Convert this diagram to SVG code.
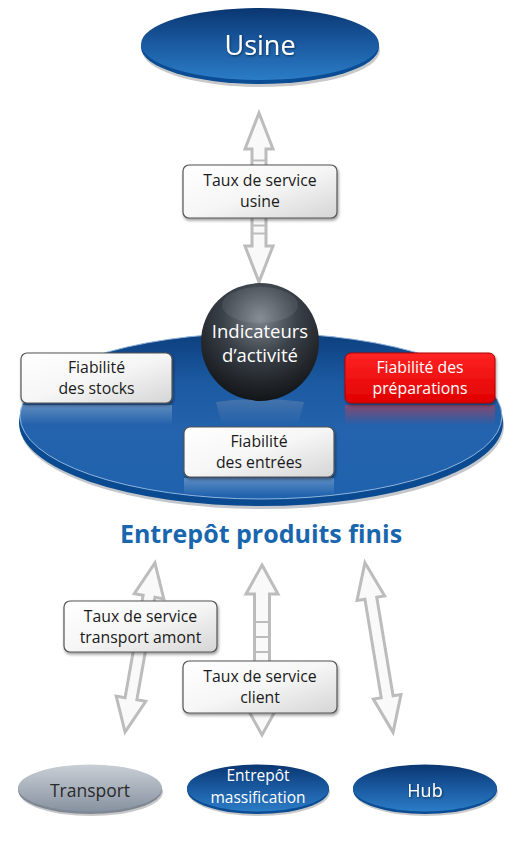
<svg xmlns="http://www.w3.org/2000/svg" width="528" height="843" viewBox="0 0 528 843">
<defs>
<linearGradient id="gBlue" x1="0" y1="0" x2="0" y2="1">
<stop offset="0" stop-color="#0a3670"/><stop offset="0.5" stop-color="#1a5aa1"/><stop offset="1" stop-color="#2b7cc6"/>
</linearGradient>
<linearGradient id="gGray" x1="0" y1="0" x2="0" y2="1">
<stop offset="0" stop-color="#c9cfd6"/><stop offset="1" stop-color="#8792a0"/>
</linearGradient>
<linearGradient id="gDisc" x1="0" y1="0" x2="0" y2="1">
<stop offset="0" stop-color="#0c3f7e"/><stop offset="0.3" stop-color="#1c5aa2"/><stop offset="0.6" stop-color="#2463ad"/><stop offset="1" stop-color="#1f62ad"/>
</linearGradient>
<linearGradient id="gBox" x1="0" y1="0" x2="1" y2="1">
<stop offset="0" stop-color="#ffffff"/><stop offset="0.5" stop-color="#f6f6f6"/><stop offset="1" stop-color="#d5d5d5"/>
</linearGradient>
<linearGradient id="gRed" x1="0" y1="0" x2="0" y2="1">
<stop offset="0" stop-color="#ff2424"/><stop offset="1" stop-color="#e00000"/>
</linearGradient>
<linearGradient id="gRefl" x1="0" y1="0" x2="0" y2="1">
<stop offset="0" stop-color="#ffffff" stop-opacity="0.28"/><stop offset="1" stop-color="#ffffff" stop-opacity="0"/>
</linearGradient>
<linearGradient id="gReflR" x1="0" y1="0" x2="0" y2="1">
<stop offset="0" stop-color="#ff3030" stop-opacity="0.45"/><stop offset="1" stop-color="#ff3030" stop-opacity="0"/>
</linearGradient>
<linearGradient id="gReflS" x1="0" y1="0" x2="0" y2="1">
<stop offset="0" stop-color="#8a9cb5" stop-opacity="0.35"/><stop offset="1" stop-color="#8a9cb5" stop-opacity="0"/>
</linearGradient>
<radialGradient id="gSphere" cx="0.5" cy="0.3" r="0.7">
<stop offset="0" stop-color="#7d848c"/><stop offset="0.45" stop-color="#3b4149"/><stop offset="1" stop-color="#121518"/>
</radialGradient>
<filter id="sh" x="-10%" y="-10%" width="120%" height="130%">
<feDropShadow dx="1" dy="2" stdDeviation="1.5" flood-color="#000" flood-opacity="0.4"/>
</filter>
<filter id="tsh" x="-10%" y="-10%" width="120%" height="130%">
<feDropShadow dx="0.8" dy="1" stdDeviation="0.8" flood-color="#000" flood-opacity="0.55"/>
</filter>
</defs>
<style>
text{font-family:"Open Sans","Noto Sans","DejaVu Sans",sans-serif;text-anchor:middle}
.box{fill:url(#gBox);stroke:#555;stroke-width:1.2}
.bt{font-size:15.8px;fill:#1a1a1a}
.wt{fill:#fff}
.arr{fill:#f9f9f9;stroke:#bcbcbc;stroke-width:3;stroke-linejoin:miter}
.bar{stroke:#bcbcbc;stroke-width:2}
</style>
<rect width="528" height="843" fill="#fff"/>

<g id="usine">
<ellipse cx="261" cy="50" rx="119" ry="37" fill="#c9c9c9"/>
<ellipse cx="260" cy="47" rx="119" ry="37" fill="#0b4d94"/>
<ellipse cx="260" cy="44" rx="119" ry="36" fill="url(#gBlue)"/>
<text x="260" y="55" font-size="27" class="wt" filter="url(#tsh)">Usine</text>
</g>

<g id="connectors">
<g transform="translate(259,197.5)">
<path class="arr" d="M0,-84.5 L14,-48.5 L7,-48.5 L7,48.5 L14,48.5 L0,84.5 L-14,48.5 L-7,48.5 L-7,-48.5 L-14,-48.5 Z"/>
<line class="bar" x1="-7" y1="-37" x2="7" y2="-37"/>
<line class="bar" x1="-7" y1="28" x2="7" y2="28"/>
<line class="bar" x1="-7" y1="36" x2="7" y2="36"/>
</g>
<g transform="translate(140,647.5) rotate(10)">
<path class="arr" d="M0,-86 L15,-52 L6,-52 L6,52 L15,52 L0,86 L-15,52 L-6,52 L-6,-52 L-15,-52 Z"/>
</g>
<g transform="translate(262,650)">
<path class="arr" d="M0,-85 L16,-56 L7.5,-56 L7.5,56 L16,56 L0,85 L-16,56 L-7.5,56 L-7.5,-56 L-16,-56 Z"/>
<line class="bar" x1="-7.5" y1="-28" x2="7.5" y2="-28"/>
<line class="bar" x1="-7.5" y1="-13" x2="7.5" y2="-13"/>
<line class="bar" x1="-7.5" y1="2" x2="7.5" y2="2"/>
</g>
<g transform="translate(379,647.5) rotate(-9.4)">
<path class="arr" d="M0,-86 L14,-50 L6,-50 L6,50 L14,50 L0,86 L-14,50 L-6,50 L-6,-50 L-14,-50 Z"/>
</g>
</g>

<g id="taux-usine">
<rect class="box" x="183" y="165" width="154" height="53" rx="6" filter="url(#sh)"/>
<text class="bt" x="260" y="186">Taux de service</text>
<text class="bt" x="260" y="207">usine</text>
</g>

<g id="entrepot">
<ellipse cx="262" cy="426" rx="242" ry="83" fill="#c3c6cb"/>
<ellipse cx="261" cy="423" rx="242" ry="83" fill="#0a4a90"/>
<ellipse cx="261" cy="416" rx="241" ry="83" fill="url(#gDisc)" stroke="#8fb4dd" stroke-width="1"/>
<rect x="21" y="405" width="151" height="20" fill="url(#gRefl)"/>
<rect x="345" y="405" width="150" height="20" fill="url(#gReflR)"/>
<rect x="184" y="478" width="150" height="18" fill="url(#gRefl)"/>
<path d="M216,402 Q260,396 304,402 L298,425 L222,425 Z" fill="url(#gReflS)"/>
</g>

<g id="indicateurs">
<circle cx="260" cy="342" r="59" fill="url(#gSphere)"/>
<ellipse cx="260" cy="305" rx="38" ry="18" fill="#fff" opacity="0.08"/>
<text x="260" y="338" font-size="18.5" class="wt">Indicateurs</text>
<text x="260" y="362" font-size="18.5" class="wt">d’activité</text>
</g>

<g id="fiab-stocks">
<rect class="box" x="21" y="353" width="151" height="50" rx="6" filter="url(#sh)"/>
<text class="bt" x="96.5" y="373">Fiabilité</text>
<text class="bt" x="96.5" y="394">des stocks</text>
</g>

<g id="fiab-prep">
<rect x="345" y="353" width="150" height="50" rx="6" fill="url(#gRed)" stroke="#b00000" stroke-width="1" filter="url(#sh)"/>
<text class="bt" x="420" y="373" style="fill:#fff">Fiabilité des</text>
<text class="bt" x="420" y="394" style="fill:#fff">préparations</text>
</g>

<g id="fiab-entrees">
<rect class="box" x="184" y="427" width="150" height="50" rx="6" filter="url(#sh)"/>
<text class="bt" x="259" y="447">Fiabilité</text>
<text class="bt" x="259" y="468">des entrées</text>
</g>

<g id="titre">
<text x="261" y="543" font-size="25" font-weight="700" fill="#1866ae">Entrepôt produits finis</text>
</g>

<g id="taux-amont">
<rect class="box" x="64" y="601" width="153" height="51" rx="6" filter="url(#sh)"/>
<text class="bt" x="140.5" y="622">Taux de service</text>
<text class="bt" x="140.5" y="643">transport amont</text>
</g>

<g id="taux-client">
<rect class="box" x="183" y="661" width="154" height="52" rx="6" filter="url(#sh)"/>
<text class="bt" x="260" y="682">Taux de service</text>
<text class="bt" x="260" y="703">client</text>
</g>

<g id="transport">
<ellipse cx="91" cy="792" rx="72" ry="24" fill="#c9c9c9"/>
<ellipse cx="90" cy="790" rx="72" ry="24" fill="#7e8894"/>
<ellipse cx="90" cy="788" rx="72" ry="23.5" fill="url(#gGray)"/>
<text x="90" y="797" font-size="17.5" fill="#2a2a2a">Transport</text>
</g>

<g id="massification">
<ellipse cx="259" cy="792" rx="71" ry="24" fill="#c9c9c9"/>
<ellipse cx="258" cy="790" rx="71" ry="24" fill="#0b4d94"/>
<ellipse cx="258" cy="788" rx="71" ry="23.5" fill="url(#gBlue)"/>
<text x="258" y="781" font-size="15.5" class="wt">Entrepôt</text>
<text x="258" y="803" font-size="15.5" class="wt">massification</text>
</g>

<g id="hub">
<ellipse cx="426" cy="792" rx="72" ry="24" fill="#c9c9c9"/>
<ellipse cx="425" cy="790" rx="72" ry="24" fill="#0b4d94"/>
<ellipse cx="425" cy="788" rx="72" ry="23.5" fill="url(#gBlue)"/>
<text x="425" y="797" font-size="18" class="wt" filter="url(#tsh)">Hub</text>
</g>
</svg>
